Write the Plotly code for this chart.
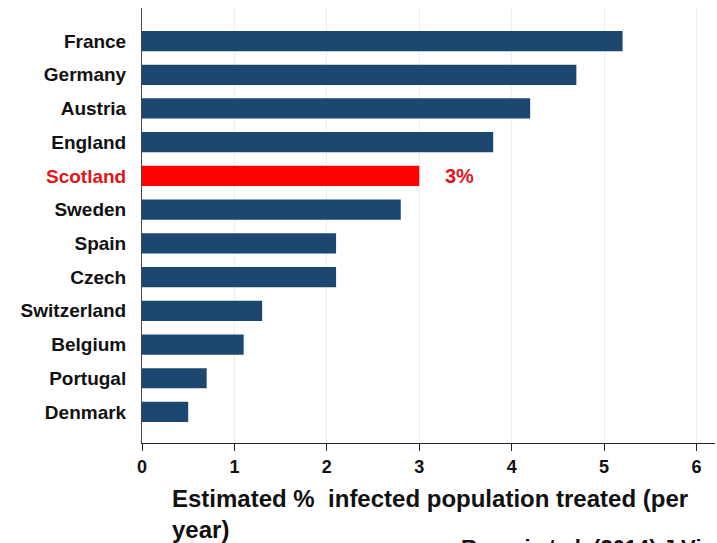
import plotly.graph_objects as go

countries = ["France", "Germany", "Austria", "England", "Scotland", "Sweden",
             "Spain", "Czech", "Switzerland", "Belgium", "Portugal", "Denmark"]
values = [5.2, 4.7, 4.2, 3.8, 3.0, 2.8, 2.1, 2.1, 1.3, 1.1, 0.7, 0.5]
highlight = "Scotland"
highlight_label = "3%"
x_ticks = [0, 1, 2, 3, 4, 5, 6]

navy = "#1C4770"
red = "#FF0000"

# bottom-to-top order
cats = countries[::-1]
vals = values[::-1]
colors = [red if c == highlight else navy for c in cats]
ticktext = [f"<span style='color:#E0161B'>{c}</span>" if c == highlight else c for c in cats]

fig = go.Figure()
fig.add_trace(go.Bar(
    x=vals, y=list(range(len(cats))), orientation="h",
    marker=dict(color=colors, line=dict(width=0)),
    width=0.6, hoverinfo="skip",
))

fig.add_annotation(
    x=values[countries.index(highlight)] + 0.26, y=cats.index(highlight),
    xref="x", yref="y", text=f"<b>{highlight_label}</b>", showarrow=False,
    xanchor="left", yanchor="middle",
    font=dict(family="Liberation Sans, Arial", size=20, color="#E0161B"),
)

fig.add_annotation(
    x=(170 - 142) / 573, y=(443 - 483) / 435, xref="paper", yref="paper",
    text="<b>Estimated % &nbsp;infected population treated (per<br>year)</b>",
    showarrow=False, xanchor="left", yanchor="top", align="left",
    font=dict(family="Liberation Sans, Arial", size=24, color="#111111"),
)

fig.add_annotation(
    x=(459 - 142) / 573, y=(443 - 533) / 435, xref="paper", yref="paper",
    text="<b>Razavi et al. (2014) J Viral Hepat</b>",
    showarrow=False, xanchor="left", yanchor="top", align="left",
    font=dict(family="Liberation Sans, Arial", size=22, color="#111111"),
)

fig.update_layout(
    width=717, height=543,
    margin=dict(l=142, r=2, t=8, b=100),
    paper_bgcolor="white", plot_bgcolor="white",
    showlegend=False,
    font=dict(family="Liberation Sans, Arial", color="#111111"),
    xaxis=dict(
        range=[0, 6.2], tickvals=x_ticks,
        ticktext=[f"<b>{t}</b>" for t in x_ticks],
        showgrid=True, gridcolor="#ECECEC", gridwidth=1,
        showline=True, linecolor="#222222", linewidth=1,
        ticks="outside", ticklen=7, tickcolor="#222222",
        tickfont=dict(size=18, color="#111111"),
        zeroline=False, fixedrange=True,
    ),
    yaxis=dict(
        range=[-0.92, 11.98],
        tickvals=list(range(len(cats))),
        ticktext=[f"<b>{t}</b>" for t in ticktext],
        showgrid=False, showline=True, linecolor="#444444", linewidth=1,
        ticks="", ticklabelstandoff=11,
        tickfont=dict(size=19, color="#111111"),
        zeroline=False, fixedrange=True,
    ),
)

fig.write_html("out.html")
